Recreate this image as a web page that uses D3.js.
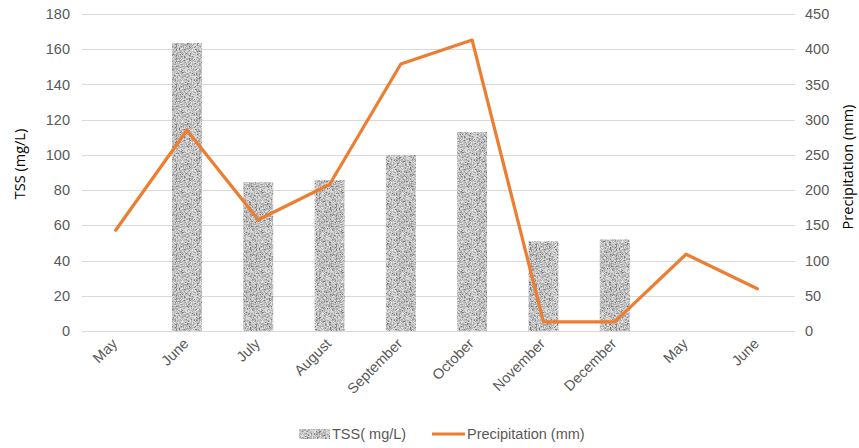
<!DOCTYPE html>
<html>
<head>
<meta charset="utf-8">
<script src="https://cdn.jsdelivr.net/npm/d3@7"></script>
<style>
  body { margin: 0; background: #fff; }
  svg { display: block; }
</style>
</head>
<body>
<div id="chart"></div>
<script>
// data
const months = ["May", "June", "July", "August", "September", "October", "November", "December", "May", "June"];
const tss = [null, 163.5, 84.5, 85.7, 100, 113, 51, 52, null, null];
const precipitation = [143, 285, 158, 208, 379, 413, 13, 13, 109, 60];
const leftTicks = [0, 20, 40, 60, 80, 100, 120, 140, 160, 180];
const rightTicks = [0, 50, 100, 150, 200, 250, 300, 350, 400, 450];

const W = 859, H = 448;
const plot = { left: 82, right: 795, top: 14, bottom: 331 };

const svg = d3.select("#chart").append("svg")
  .attr("width", W)
  .attr("height", H);

// granite-like fill for the bars (deterministic speckle)
const defs = svg.append("defs");
const pat = defs.append("pattern")
  .attr("id", "granite")
  .attr("patternUnits", "userSpaceOnUse")
  .attr("width", 40)
  .attr("height", 40);
let seed = 12345;
function rnd() {
  seed = (seed * 1103515245 + 12345) % 2147483648;
  return seed / 2147483648;
}
pat.append("rect").attr("width", 40).attr("height", 40).attr("fill", "#b8b8b8");
for (let i = 0; i < 40; i++) {
  for (let j = 0; j < 40; j++) {
    const r = rnd();
    const g = Math.round(r < 0.08 ? 115 + r * 300 : 160 + rnd() * 70);
    pat.append("rect")
      .attr("x", i).attr("y", j)
      .attr("width", 1).attr("height", 1)
      .attr("fill", `rgb(${g},${g},${g})`);
  }
}

// scales
const x = d3.scaleBand()
  .domain(d3.range(months.length))
  .range([80, 793])
  .paddingInner(0.58)
  .paddingOuter(0.29);

const y = d3.scaleLinear().domain([0, 180]).range([plot.bottom, plot.top]);
const y2 = d3.scaleLinear().domain([0, 450]).range([plot.bottom, plot.top]);

const cx = i => x(i) + x.bandwidth() / 2;

// gridlines
svg.append("g")
  .selectAll("line")
  .data(leftTicks)
  .join("line")
    .attr("x1", plot.left)
    .attr("x2", plot.right)
    .attr("y1", d => Math.round(y(d)) + 0.5)
    .attr("y2", d => Math.round(y(d)) + 0.5)
    .attr("stroke", "#d9d9d9")
    .attr("stroke-width", 1);

// left axis labels
const tickFont = "'Liberation Sans', Arial, sans-serif";
const fs = "14.5px";
const axisL = svg.append("g")
  .attr("transform", `translate(${plot.left - 12},0)`)
  .call(d3.axisLeft(y).tickValues(leftTicks).tickSize(0).tickPadding(0));
axisL.select(".domain").remove();
axisL.selectAll("text")
  .attr("fill", "#595959")
  .style("font-family", tickFont)
  .style("font-size", fs);

// right axis labels
const axisR = svg.append("g")
  .attr("transform", `translate(${plot.right + 10},0)`)
  .call(d3.axisRight(y2).tickValues(rightTicks).tickSize(0).tickPadding(0));
axisR.select(".domain").remove();
axisR.selectAll("text")
  .attr("fill", "#595959")
  .style("font-family", tickFont)
  .style("font-size", fs);

// x labels, rotated
svg.append("g")
  .selectAll("text")
  .data(months)
  .join("text")
    .attr("transform", (d, i) => `translate(${cx(i) - 1},${plot.bottom + 10}) rotate(-45)`)
    .attr("text-anchor", "end")
    .attr("dy", "0.35em")
    .attr("fill", "#595959")
    .style("font-family", tickFont)
    .style("font-size", fs)
    .text(d => d);

// bars
svg.append("g")
  .selectAll("rect")
  .data(tss.map((v, i) => ({ v, i })).filter(d => d.v !== null))
  .join("rect")
    .attr("x", d => x(d.i))
    .attr("y", d => y(d.v))
    .attr("width", x.bandwidth())
    .attr("height", d => y(0) - y(d.v))
    .attr("fill", "url(#granite)");

// precipitation line
const line = d3.line()
  .x((d, i) => cx(i))
  .y(d => y2(d));

svg.append("path")
  .datum(precipitation)
  .attr("fill", "none")
  .attr("stroke", "#ED7D31")
  .attr("stroke-width", 3.2)
  .attr("stroke-linejoin", "round")
  .attr("stroke-linecap", "round")
  .attr("d", line);

// axis titles
const titleFont = "'Open Sans', 'Noto Sans', sans-serif";
svg.append("text")
  .attr("transform", "translate(25,164) rotate(-90)")
  .attr("text-anchor", "middle")
  .attr("fill", "#000")
  .style("font-family", titleFont)
  .style("font-size", "14.5px")
  .text("TSS (mg/L)");

svg.append("text")
  .attr("transform", "translate(853,167) rotate(-90)")
  .attr("text-anchor", "middle")
  .attr("fill", "#000")
  .style("font-family", titleFont)
  .style("font-size", "14.5px")
  .text("Precipitation (mm)");

// legend
const leg = svg.append("g").attr("transform", "translate(0,434)");
leg.append("rect")
  .attr("x", 299).attr("y", -5)
  .attr("width", 31).attr("height", 10)
  .attr("fill", "url(#granite)");
leg.append("text")
  .attr("x", 332).attr("y", 0).attr("dy", "0.35em")
  .attr("fill", "#595959")
  .style("font-family", tickFont)
  .style("font-size", fs)
  .text("TSS( mg/L)");
leg.append("line")
  .attr("x1", 432).attr("x2", 465)
  .attr("y1", 0).attr("y2", 0)
  .attr("stroke", "#ED7D31")
  .attr("stroke-width", 3.2);
leg.append("text")
  .attr("x", 467).attr("y", 0).attr("dy", "0.35em")
  .attr("fill", "#595959")
  .style("font-family", tickFont)
  .style("font-size", fs)
  .text("Precipitation (mm)");
</script>
</body>
</html>
